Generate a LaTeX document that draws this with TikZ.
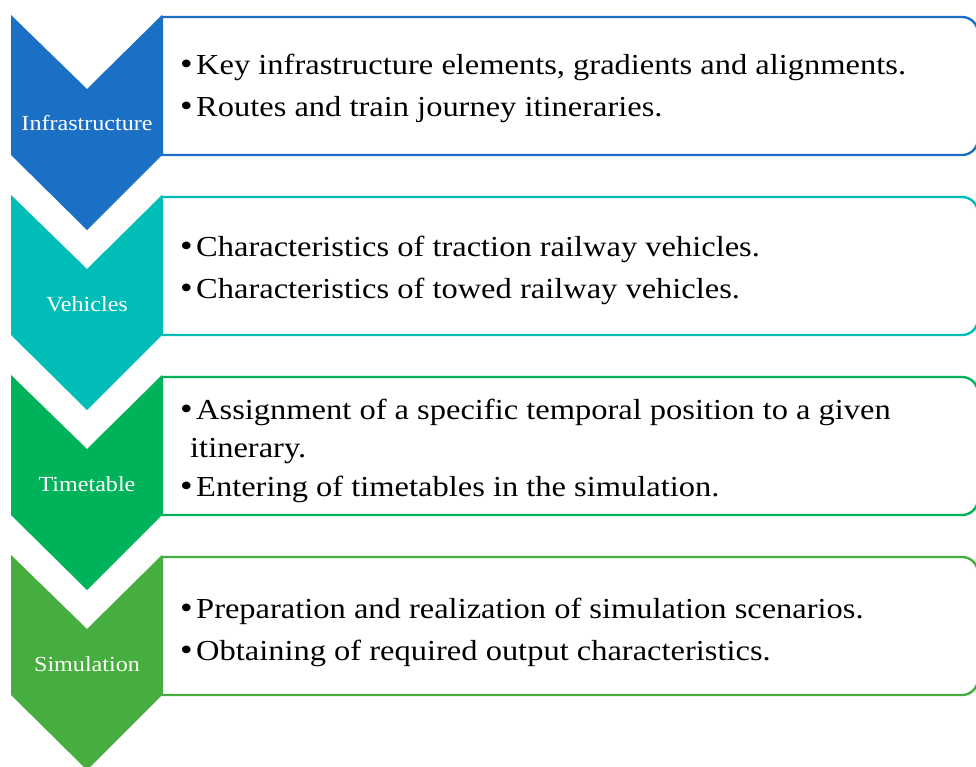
\documentclass[tikz,border=0pt]{standalone}
\usepackage{fontspec}
\setmainfont{Liberation Serif}[FakeStretch=1.12]
\definecolor{cblue}{HTML}{1B70C6}
\definecolor{cteal}{HTML}{00BDB7}
\definecolor{cgreen}{HTML}{00B35B}
\definecolor{clgreen}{HTML}{46AE3E}
\tikzset{
  body/.style={anchor=base west, inner sep=0pt, font=\fontsize{29}{32}\selectfont, text=black},
  bul/.style={anchor=base west, inner sep=0pt, font=\fontsize{32}{32}\selectfont, text=black},
  lab/.style={anchor=base, inner sep=0pt, font=\fontsize{21.5}{25}\selectfont, text=white},
  boxline/.style={line width=2.4pt, fill=white}
}
\begin{document}
\begin{tikzpicture}[x=1pt,y=-1pt]
\useasboundingbox (0,0) rectangle (976,767);
\clip (0,0) rectangle (976,767);
\fill[white] (0,0) rectangle (976,767);
% stages
\foreach \c [count=\i from 0] in {cblue,cteal,cgreen,clgreen}{
  \pgfmathsetmacro{\o}{180*\i}
  \draw[boxline, draw=\c] (162,17+\o) -- (962,17+\o) arc[start angle=90,end angle=0,radius=16pt] -- (978,139+\o) arc[start angle=0,end angle=-90,radius=16pt] -- (162,155+\o) -- cycle;
  \fill[\c] (11,15+\o) -- (87,89+\o) -- (162,15+\o) -- (162,155+\o) -- (87,230+\o) -- (11,155+\o) -- cycle;
}
\node[lab] (l1) at (87,131) {Infrastructure};
\node[lab] (l2) at (87,311) {Vehicles};
\node[lab] (l3) at (87,491) {Timetable};
\node[lab] (l4) at (87,671) {Simulation};
% box 1
\node[bul] (b11) at (180,75) {•};
\node[body] (t11) at (196,75) {Key infrastructure elements, gradients and alignments.};
\node[bul] (b12) at (180,117) {•};
\node[body] (t12) at (196,117) {Routes and train journey itineraries.};
% box 2
\node[bul] (b21) at (180,256) {•};
\node[body] (t21) at (196,256) {Characteristics of traction railway vehicles.};
\node[bul] (b22) at (180,298) {•};
\node[body] (t22) at (196,298) {Characteristics of towed railway vehicles.};
% box 3
\node[bul] (b31) at (180,419) {•};
\node[body] (t31) at (196,419) {Assignment of a specific temporal position to a given};
\node[body] (t31b) at (190,457) {itinerary.};
\node[bul] (b32) at (180,496) {•};
\node[body] (t32) at (196,496) {Entering of timetables in the simulation.};
% box 4
\node[bul] (b41) at (180,618) {•};
\node[body] (t41) at (196,618) {Preparation and realization of simulation scenarios.};
\node[bul] (b42) at (180,660) {•};
\node[body] (t42) at (196,660) {Obtaining of required output characteristics.};
\end{tikzpicture}
\end{document}
